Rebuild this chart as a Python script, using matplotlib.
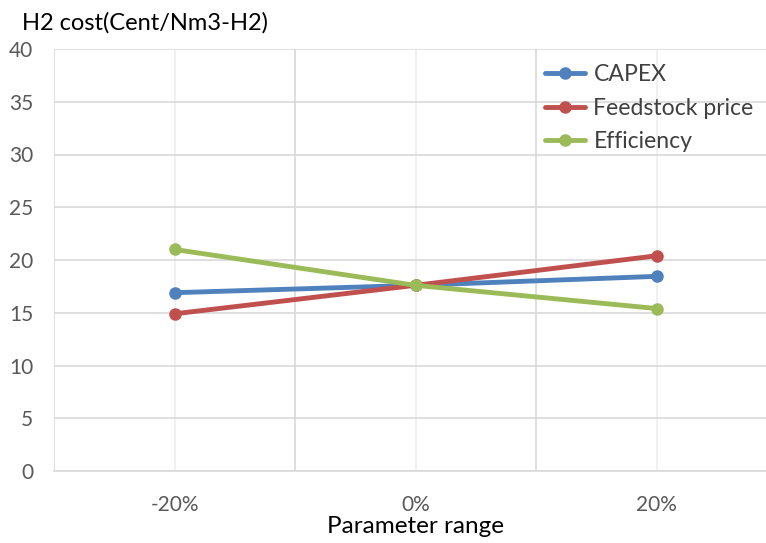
import matplotlib
matplotlib.use("Agg")
import matplotlib.pyplot as plt

# data
categories = ["-20%", "0%", "20%"]
capex = [16.9, 17.6, 18.45]
feedstock = [14.9, 17.6, 20.4]
efficiency = [21.0, 17.6, 15.4]
series_names = ["CAPEX", "Feedstock price", "Efficiency"]
series_colors = ["#4F81BD", "#C0504D", "#9BBB59"]

plt.rcParams['font.family'] = ['Lato', 'DejaVu Sans']

W, H = 766, 543
fig = plt.figure(figsize=(W / 100, H / 100), dpi=100)
# plot area runs past the right edge of the picture, like the reference
x0, x1, y0, y1 = 54, 777, 471, 49
ax = fig.add_axes([x0 / W, (H - y0) / H, (x1 - x0) / W, (y0 - y1) / H])

xs = list(range(len(categories)))
for vals, name, col in zip([capex, feedstock, efficiency], series_names, series_colors):
    ax.plot(xs, vals, color=col, lw=3.5, marker='o', ms=8, label=name,
            solid_capstyle='round', zorder=3)

ax.set_xlim(-0.5, len(categories) - 0.5)
ax.set_ylim(0, 40)
ax.set_yticks(range(0, 41, 5))
ax.set_xticks(xs)
ax.set_xticklabels(categories)
ax.set_xticks([i - 0.5 for i in range(len(categories) + 1)], minor=True)

ax.grid(axis='y', which='major', color='#D9D9D9', lw=1.2)
ax.grid(axis='x', which='major', color='#EDEDED', lw=1.2)
ax.grid(axis='x', which='minor', color='#D9D9D9', lw=1.2)
ax.set_axisbelow(True)

for s in ['top', 'right', 'left']:
    ax.spines[s].set_visible(False)
ax.spines['bottom'].set_color('#D9D9D9')
ax.spines['bottom'].set_linewidth(1.2)

ax.tick_params(axis='both', which='both', length=0, labelsize=15, labelcolor='#595959')
ax.tick_params(axis='x', pad=17)
ax.tick_params(axis='y', pad=15)

fig.text((x0 + x1) / 2 / W, 1 - 533 / H, "Parameter range", fontsize=17.5,
         ha='center', va='baseline')
fig.text(22 / W, 1 - 30 / H, "H2 cost(Cent/Nm3-H2)", fontsize=17,
         ha='left', va='baseline')

leg = ax.legend(loc='upper left', bbox_to_anchor=(545 / W, 1 - 64 / H),
                bbox_transform=fig.transFigure, frameon=False, fontsize=16.6,
                handlelength=1.75, handletextpad=0.35, labelspacing=0.55,
                borderaxespad=0, borderpad=0)
for t in leg.get_texts():
    t.set_color('#404040')

fig.savefig("out.png", dpi=100)
